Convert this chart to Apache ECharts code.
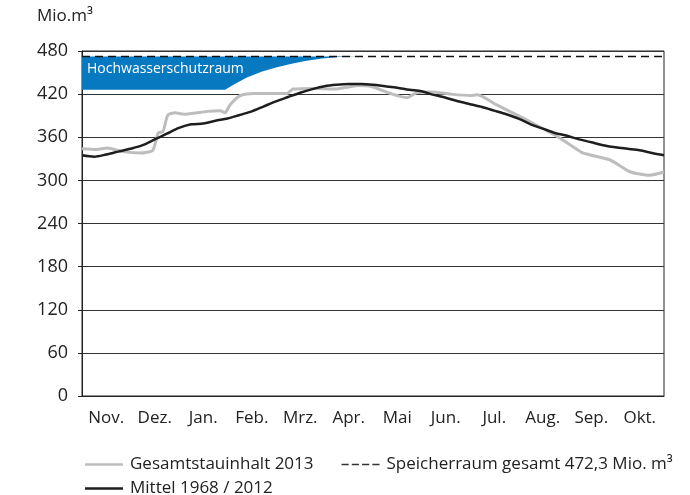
<!DOCTYPE html>
<html>
<head>
<meta charset="utf-8">
<title>Speicherinhalt</title>
<script src="https://cdn.jsdelivr.net/npm/echarts@6/dist/echarts.min.js"></script>
<style>
  html, body { margin: 0; padding: 0; background: #fff; }
  #chart { width: 690px; height: 495px; }
</style>
</head>
<body>
<div id="chart"></div>
<script>
// month labels (hydrological year Nov - Okt)
var months = ['Nov.', 'Dez.', 'Jan.', 'Feb.', 'Mrz.', 'Apr.', 'Mai', 'Jun.', 'Jul.', 'Aug.', 'Sep.', 'Okt.']
var yTicks = [0, 60, 120, 180, 240, 300, 360, 420, 480]

// Mittel 1968 / 2012 (x in months from 1. Nov)
var mittelX = [0, 0.25, 0.5, 0.75, 1, 1.25, 1.5, 1.75, 2, 2.25, 2.5, 2.75, 3, 3.25, 3.5, 3.75, 4, 4.25, 4.5, 4.75, 5, 5.25, 5.5, 5.75, 6,
  6.25, 6.5, 6.75, 7, 7.25, 7.5, 7.75, 8, 8.25, 8.5, 8.75, 9, 9.25, 9.5, 9.75, 10, 10.25, 10.5, 10.75, 11, 11.25, 11.5, 11.75, 12]
var mittelValues = [335, 333, 336, 340, 344, 349, 357, 365, 373, 378, 379, 383, 386, 391, 396, 403, 410, 416, 422, 427, 431, 433, 434, 434, 433,
  431, 429, 426, 424, 419, 415, 410, 406, 402, 397, 392, 386, 378, 372, 366, 362, 357, 353, 349, 346, 344, 342, 338, 335]

// Gesamtstauinhalt 2013
var stauX = [0, 0.3, 0.52, 0.85, 1.2, 1.46, 1.57, 1.67, 1.77, 1.92, 2.1, 2.58, 2.85, 2.95, 3.05, 3.26, 3.53, 4.23, 4.35, 4.85, 5.2, 5.5, 5.7, 5.95,
  6.35, 6.7, 6.9, 7.2, 7.6, 8.0, 8.15, 8.55, 9.2, 9.85, 10.3, 10.5, 10.9, 11.3, 11.7, 11.92, 12]
var stauValues = [344, 343, 345, 340, 338, 342, 366, 368, 391, 394, 392, 396, 397, 394, 405, 418, 421, 421, 427, 428, 427, 430, 432, 431,
  421, 415, 422, 423, 420, 418, 419, 405, 383, 359, 339, 335, 328, 312, 307, 310, 312]

// Speicherraum gesamt
var speicherraum = 472.3

// untere Grenze Hochwasserschutzraum
var schutzX = [0, 2.95, 3.15, 3.4, 3.7, 4.0, 4.3, 4.6, 4.95, 5.3, 5.75]
var schutzValues = [426, 426, 434, 443, 451, 457, 462, 466, 469.5, 471.5, 472.3]

function pairs(xs, ys) {
  return xs.map(function (x, i) { return [x, ys[i]] })
}

var chart = echarts.init(document.getElementById('chart'))
var font = '"Open Sans", sans-serif'
var dashIcon = 'path://M0,0h7v1.4h-7zM10,0h7v1.4h-7zM20,0h7v1.4h-7zM30,0h7v1.4h-7z'

chart.setOption({
  animation: false,
  textStyle: { fontFamily: font },
  grid: {
    left: 82,
    right: 26,
    top: 51,
    bottom: 99,
    show: true,
    borderColor: '#222',
    borderWidth: 1
  },
  graphic: [
    {
      type: 'text',
      left: 37,
      top: 8,
      style: { text: 'Mio.m³', font: '17px "Open Sans", sans-serif', fill: '#222' }
    },
    {
      type: 'text',
      left: 87,
      top: 62,
      z: 10,
      style: { text: 'Hochwasserschutzraum', font: '14px "Open Sans", sans-serif', fill: '#fff' }
    }
  ],
  legend: [
    {
      left: 80,
      top: 451,
      itemWidth: 38,
      itemHeight: 2.5,
      itemGap: 28,
      data: [
        { name: 'Gesamtstauinhalt 2013', icon: 'rect' },
        { name: 'Speicherraum gesamt 472,3 Mio. m³', icon: dashIcon }
      ],
      textStyle: { fontSize: 17, color: '#222', padding: [0, 0, 0, 2] }
    },
    {
      left: 80,
      top: 475,
      itemWidth: 38,
      itemHeight: 2.5,
      data: [{ name: 'Mittel 1968 / 2012', icon: 'rect' }],
      textStyle: { fontSize: 17, color: '#222', padding: [0, 0, 0, 2] }
    }
  ],
  xAxis: [
    {
      type: 'value',
      min: 0,
      max: 12,
      show: false
    },
    {
      type: 'category',
      data: months,
      position: 'bottom',
      boundaryGap: true,
      axisLine: { lineStyle: { color: '#222', width: 1 } },
      axisTick: { length: 5, lineStyle: { color: '#222' } },
      axisLabel: { fontSize: 17, color: '#222', margin: 14 },
      splitLine: { show: false }
    }
  ],
  yAxis: {
    type: 'value',
    min: 0,
    max: 480,
    interval: 60,
    axisLine: { show: true, lineStyle: { color: '#222', width: 1 } },
    axisTick: { show: true, length: 4, lineStyle: { color: '#222' } },
    axisLabel: {
      fontSize: 18,
      color: '#222',
      margin: 14,
      formatter: function (v) { return yTicks.indexOf(v) >= 0 ? String(v) : '' }
    },
    splitLine: { lineStyle: { color: '#333', width: 1 } }
  },
  series: [
    {
      name: 'Hochwasserschutzraum',
      type: 'line',
      xAxisIndex: 0,
      data: pairs(schutzX, schutzValues),
      symbol: 'none',
      lineStyle: { width: 0 },
      areaStyle: { color: '#0779c1', opacity: 1, origin: speicherraum },
      z: 1
    },
    {
      name: 'Speicherraum gesamt 472,3 Mio. m³',
      type: 'line',
      xAxisIndex: 0,
      data: [[0, speicherraum], [12, speicherraum]],
      symbol: 'none',
      lineStyle: { color: '#111', width: 1.5, type: [8, 5] },
      itemStyle: { color: '#333' },
      z: 3
    },
    {
      name: 'Gesamtstauinhalt 2013',
      type: 'line',
      xAxisIndex: 0,
      data: pairs(stauX, stauValues),
      symbol: 'none',
      smooth: 0.2,
      lineStyle: { color: '#bdbdbd', width: 3 },
      itemStyle: { color: '#bdbdbd' },
      z: 4
    },
    {
      name: 'Mittel 1968 / 2012',
      type: 'line',
      xAxisIndex: 0,
      data: pairs(mittelX, mittelValues),
      symbol: 'none',
      smooth: 0.3,
      lineStyle: { color: '#1e1e1e', width: 2.5 },
      itemStyle: { color: '#1e1e1e' },
      z: 5
    }
  ]
})
</script>
</body>
</html>
